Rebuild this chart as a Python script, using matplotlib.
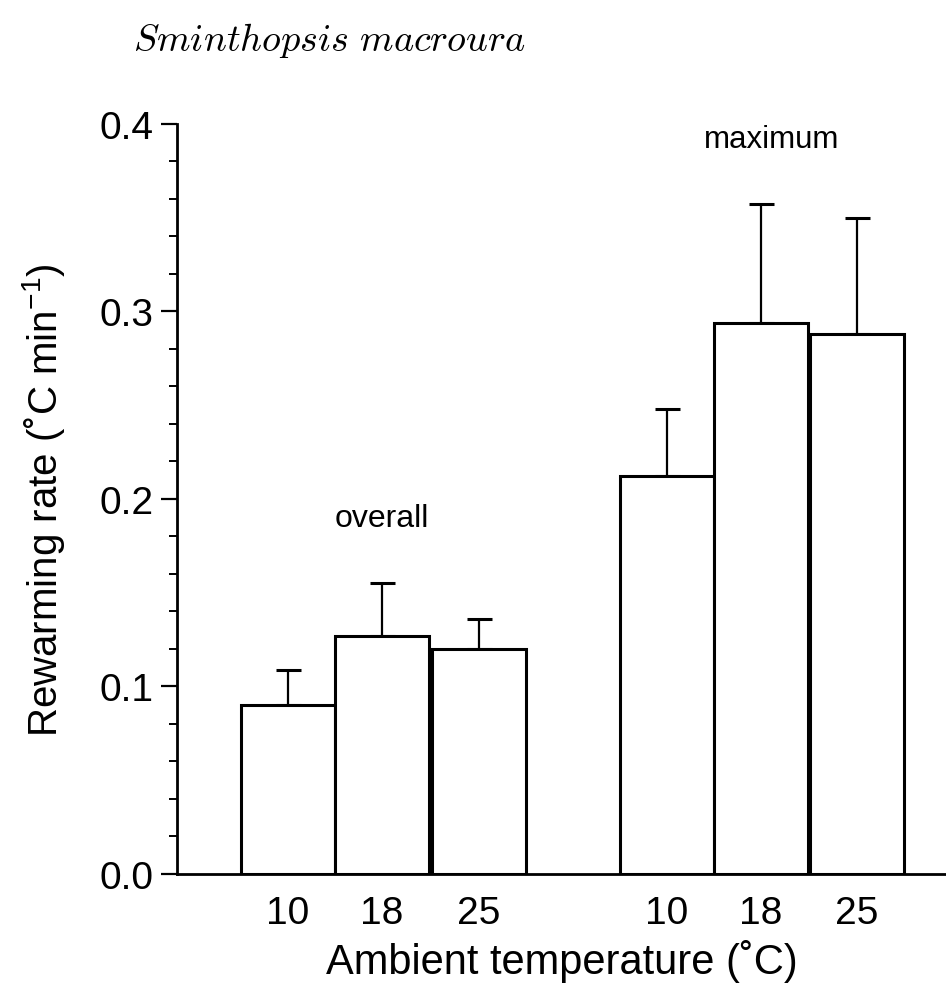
import numpy as np
import matplotlib
matplotlib.use("Agg")
import matplotlib.pyplot as plt
from matplotlib.ticker import MultipleLocator

plt.rcParams['font.family'] = ['Liberation Sans', 'DejaVu Sans']
plt.rcParams['mathtext.fontset'] = 'custom'
plt.rcParams['mathtext.rm'] = 'Liberation Sans'
plt.rcParams['mathtext.it'] = 'Liberation Sans:italic'

# data
temps = ['10', '18', '25']
overall_mean = [0.090, 0.127, 0.120]
overall_err = [0.019, 0.028, 0.016]
maximum_mean = [0.212, 0.294, 0.288]
maximum_err = [0.036, 0.063, 0.062]

# bar positions (bar width = 1 unit)
x_overall = np.array([0.0, 1.0, 2.03])
x_maximum = np.array([4.03, 5.03, 6.05])

fig = plt.figure(figsize=(9.46, 9.87), dpi=100)
ax = fig.add_axes([0.187, 0.1135, 0.813, 0.760])

for xs, means, errs in [(x_overall, overall_mean, overall_err),
                        (x_maximum, maximum_mean, maximum_err)]:
    ax.errorbar(xs, means, yerr=[np.zeros(len(errs)), errs], fmt='none',
                ecolor='black', elinewidth=1.6, capsize=9, capthick=2.2, zorder=2)
    ax.bar(xs, means, width=1.0, color='white', edgecolor='black',
           linewidth=2.2, zorder=3)

ax.set_xlim(-1.18, 7.0)
ax.set_ylim(0, 0.4)

ax.spines['top'].set_visible(False)
ax.spines['right'].set_visible(False)
ax.spines['left'].set_linewidth(2)
ax.spines['bottom'].set_linewidth(2)

ax.yaxis.set_minor_locator(MultipleLocator(0.02))
ax.set_yticks([0.0, 0.1, 0.2, 0.3, 0.4])
ax.set_yticklabels(['0.0', '0.1', '0.2', '0.3', '0.4'])
ax.tick_params(axis='y', which='major', length=11.5, width=1.6, labelsize=28, pad=5)
ax.tick_params(axis='y', which='minor', length=5.8, width=1.4)

ax.set_xticks(np.concatenate([x_overall, x_maximum]))
ax.set_xticklabels(temps + temps)
ax.tick_params(axis='x', length=0, labelsize=28, pad=15)

ax.set_xlabel('Ambient temperature (˚C)', fontsize=30, labelpad=6)
ax.set_ylabel('Rewarming rate (˚C min$^{-1}$)', fontsize=29, labelpad=24)

ax.text(x_overall[1], 0.19, 'overall', fontsize=23, ha='center', va='center')
ax.text(x_maximum[1] + 0.12, 0.392, 'maximum', fontsize=22.5, ha='center', va='center')

fig.text(133 / 946, 1 - 40 / 987, r'$Sminthopsis\ macroura$', fontsize=27.5,
         ha='left', va='center', math_fontfamily='cm')

fig.savefig('out.png', dpi=100)
